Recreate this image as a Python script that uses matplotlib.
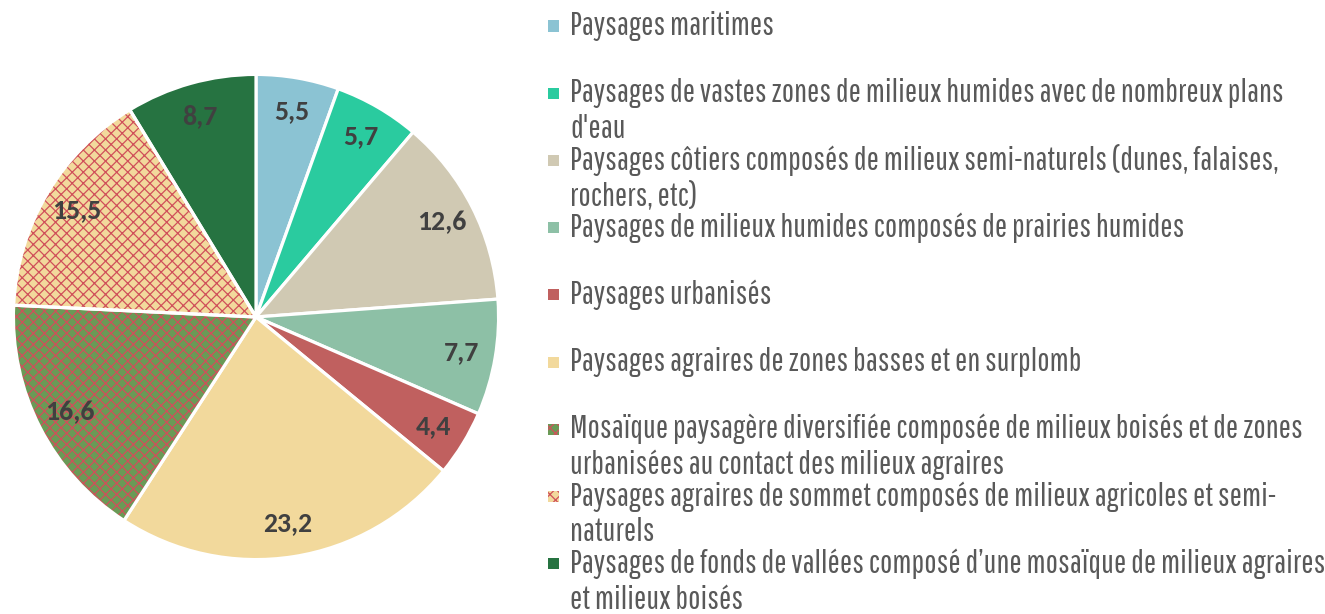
import matplotlib.pyplot as plt
from matplotlib.patches import Rectangle, Wedge

# ---------------- DATA ---------------- #

labels = [
    "Paysages maritimes",
    "Paysages de vastes zones de milieux humides avec de nombreux plans\nd'eau",
    "Paysages côtiers composés de milieux semi-naturels (dunes, falaises,\nrochers, etc)",
    "Paysages de milieux humides composés de prairies humides",
    "Paysages urbanisés",
    "Paysages agraires de zones basses et en surplomb",
    "Mosaïque paysagère diversifiée composée de milieux boisés et de zones\nurbanisées au contact des milieux agraires",
    "Paysages agraires de sommet composés de milieux agricoles et semi-\nnaturels",
    "Paysages de fonds de vallées composé d\u2019une mosaïque de milieux agraires\net milieux boisés",
]
values = [5.5, 5.7, 12.6, 7.7, 4.4, 23.2, 16.6, 15.5, 8.7]
colors = ["#8bc3d3", "#2acb9f", "#d0c9b3", "#8dc0a6", "#c0605f",
          "#f2d99c", "#6a9a56", "#f2d99c", "#267341"]
hatched = [False, False, False, False, False, False, True, True, False]

legend_font = ["Pathway Gothic One", "Saira ExtraCondensed", "Antonio", "DejaVu Sans"]
value_font = ["Carlito", "Lato", "DejaVu Sans"]

# ---------------- FIGURE ---------------- #

W, H = 1325, 614
fig = plt.figure(figsize=(W / 100, H / 100), dpi=100)
plt.rcParams["hatch.linewidth"] = 0.9

cx, cy, R = 256, 317, 245
ax = fig.add_axes([(cx - R) / W, (H - cy - R) / H, 2 * R / W, 2 * R / H])

wedges, texts = ax.pie(
    values, colors=colors, startangle=90, counterclock=False,
    labels=[f"{v:.1f}".replace(".", ",") for v in values],
    labeldistance=0.86, radius=1,
    wedgeprops=dict(edgecolor="white", linewidth=2.3),
    textprops=dict(fontsize=20, fontweight="bold", color="#404040",
                   family=value_font, ha="center", va="center"),
)

# red crosshatch on the patterned slices, white border drawn on top
for w, h in zip(wedges, hatched):
    if h:
        w.set_hatch("xxx")
        w.set_edgecolor("#d0505a")
        w.set_linewidth(0)
        ax.add_patch(Wedge(w.center, w.r, w.theta1, w.theta2,
                           facecolor="none", edgecolor="white",
                           linewidth=2.3, zorder=w.get_zorder() + 0.1))
for t in texts:
    t.set_zorder(5)

ax.set_xlim(-1.01, 1.01)
ax.set_ylim(-1.01, 1.01)
ax.set_aspect("equal")
ax.axis("off")

# ---------------- LEGEND ---------------- #

y0, step, line_h = 26, 67.2, 36
for i, (lab, c, h) in enumerate(zip(labels, colors, hatched)):
    y = y0 + step * i
    sq = Rectangle((548 / W, (H - y - 5.5) / H), 11 / W, 11 / H,
                   transform=fig.transFigure, facecolor=c,
                   edgecolor="#d0505a" if h else "none",
                   hatch="xxx" if h else None, linewidth=0)
    fig.patches.append(sq)
    for j, line in enumerate(lab.split("\n")):
        fig.text(570 / W, (H - y - j * line_h) / H, line,
                 fontsize=23.5, color="#595959", family=legend_font,
                 ha="left", va="center")

fig.savefig("out.png", dpi=100)
